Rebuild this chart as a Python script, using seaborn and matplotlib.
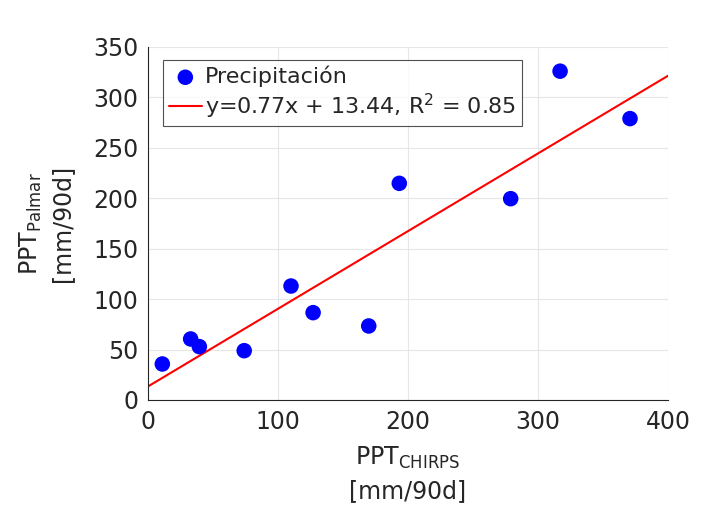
import matplotlib
matplotlib.use("Agg")
import matplotlib.pyplot as plt
import numpy as np
import pandas as pd
import seaborn as sns

ppt_chirps = [11, 32.8, 39.5, 74, 110, 127, 169.8, 193.3, 279, 317, 370.8]
ppt_palmar = [35.7, 60.5, 52.9, 48.9, 113, 86.6, 73.4, 214.8, 199.6, 326, 279]

# Regression reported in the legend
slope = 0.77
intercept = 13.44
r2 = 0.85
fit_x = [0, 400]

x_ticks = [0, 100, 200, 300, 400]
y_ticks = [0, 50, 100, 150, 200, 250, 300, 350]


def main():
    sns.set_style("white")
    plt.rcParams["font.family"] = ["DejaVu Sans"]
    plt.rcParams["mathtext.fontset"] = "dejavusans"

    df = pd.DataFrame({"chirps": ppt_chirps, "palmar": ppt_palmar})
    fit = pd.DataFrame({"x": fit_x, "y": [slope * v + intercept for v in fit_x]})

    fig = plt.figure(figsize=(7.27, 5.14), dpi=100)
    ax = fig.add_axes([0.2036, 0.2218, 0.7152, 0.6868])

    sns.scatterplot(data=df, x="chirps", y="palmar", ax=ax, color="#0000ff",
                    s=125, edgecolor="none", label="Precipitación", zorder=3)
    sns.lineplot(data=fit, x="x", y="y", ax=ax, color="#ff0000", linewidth=1.5,
                 label=f"y={slope}x + {intercept}, R$^2$ = {r2}", zorder=2)

    ax.set_xlim(0, 400)
    ax.set_ylim(0, 350)
    ax.set_xticks(x_ticks)
    ax.set_yticks(y_ticks)
    ax.grid(True, color="#e6e6e6", linewidth=0.8)
    ax.set_axisbelow(True)
    for side in ["top", "right"]:
        ax.spines[side].set_visible(False)
    for side in ["left", "bottom"]:
        ax.spines[side].set_color("#262626")
        ax.spines[side].set_linewidth(0.8)
    ax.tick_params(direction="in", length=4, width=0.8, colors="#262626",
                   labelsize=17, labelcolor="#262626", pad=7)

    ax.set_xlabel("PPT$_{\\mathregular{CHIRPS}}$\n[mm/90d]", fontsize=17,
                  color="#262626", labelpad=8, linespacing=1.45)
    ax.set_ylabel("PPT$_{\\mathregular{Palmar}}$\n[mm/90d]", fontsize=17,
                  color="#262626", labelpad=14, linespacing=1.3)

    leg = ax.legend(loc="upper left", bbox_to_anchor=(0.029, 0.963),
                    fontsize=16, frameon=True, fancybox=False,
                    edgecolor="#262626", handlelength=1.5,
                    handletextpad=0.15, borderpad=0.25,
                    labelspacing=0.2, borderaxespad=0)
    leg.get_frame().set_linewidth(0.8)

    fig.savefig("out.png", dpi=100)


if __name__ == "__main__":
    main()
